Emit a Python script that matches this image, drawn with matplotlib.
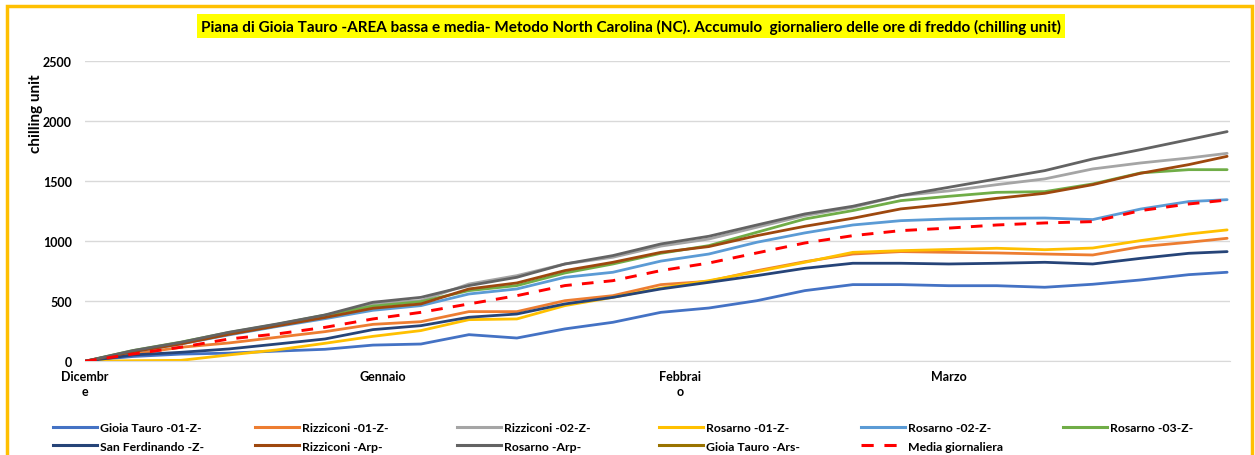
import matplotlib.pyplot as plot
from matplotlib.patches import Rectangle
from matplotlib.lines import Line2D

plot.rcParams['font.family'] = ['Lato', 'DejaVu Sans']
plot.rcParams['font.weight'] = 'bold'

# days since 1 December
days = [0, 5, 10, 15, 20, 25, 30, 35, 40, 45, 50, 55, 60, 65, 70, 75, 80, 85, 90, 95, 100, 105, 110, 115, 119]

gioia_01 = [5, 40, 60, 68, 85, 100, 135, 144, 222, 194, 270, 325, 408, 444, 505, 589, 639, 639, 630, 630, 617, 642, 678, 722, 742]
rizziconi_01 = [0, 60, 117, 153, 200, 247, 308, 330, 414, 414, 505, 547, 639, 667, 755, 830, 894, 914, 908, 903, 894, 886, 955, 992, 1025]
rizziconi_02 = [0, 85, 155, 235, 305, 380, 480, 506, 644, 714, 811, 867, 960, 1019, 1117, 1214, 1283, 1381, 1420, 1472, 1520, 1603, 1653, 1694, 1733]
rosarno_01 = [0, 5, 8, 53, 95, 150, 208, 256, 347, 353, 464, 533, 610, 672, 747, 825, 908, 922, 932, 942, 930, 944, 1006, 1061, 1095]
rosarno_02 = [0, 80, 145, 220, 290, 355, 425, 464, 561, 603, 700, 742, 835, 894, 992, 1070, 1136, 1172, 1186, 1192, 1194, 1181, 1269, 1331, 1347]
rosarno_03 = [0, 90, 160, 240, 308, 385, 460, 497, 589, 631, 736, 811, 900, 964, 1075, 1186, 1256, 1339, 1375, 1408, 1414, 1478, 1570, 1597, 1597]
san_ferdinando = [0, 53, 75, 103, 144, 186, 264, 297, 367, 394, 478, 533, 603, 658, 714, 775, 817, 817, 811, 817, 825, 811, 858, 900, 914]
rizziconi_arp = [0, 80, 145, 225, 295, 365, 442, 478, 603, 653, 756, 825, 908, 956, 1047, 1125, 1192, 1270, 1310, 1358, 1400, 1472, 1567, 1639, 1708]
rosarno_arp = [0, 89, 158, 242, 311, 386, 492, 533, 631, 700, 811, 881, 978, 1042, 1136, 1228, 1292, 1381, 1450, 1520, 1589, 1686, 1764, 1847, 1914]
gioia_ars = []  # no visible line in the chart
media = [0, 61, 117, 186, 228, 283, 353, 408, 478, 547, 631, 672, 756, 819, 903, 986, 1047, 1089, 1110, 1136, 1153, 1164, 1256, 1311, 1344]

month_days = [0, 31, 62, 90]
month_labels = ['Dicembr\ne', 'Gennaio', 'Febbrai\no', 'Marzo']
y_ticks = [0, 500, 1000, 1500, 2000, 2500]

series = [
    ('Gioia Tauro -01-Z-', gioia_01, '#4472C4'),
    ('Rizziconi -01-Z-', rizziconi_01, '#ED7D31'),
    ('Rizziconi -02-Z-', rizziconi_02, '#A5A5A5'),
    ('Rosarno -01-Z-', rosarno_01, '#FFC000'),
    ('Rosarno -02-Z-', rosarno_02, '#5B9BD5'),
    ('Rosarno -03-Z-', rosarno_03, '#70AD47'),
    ('San Ferdinando -Z-', san_ferdinando, '#264478'),
    ('Rizziconi -Arp-', rizziconi_arp, '#9E480E'),
    ('Rosarno -Arp-', rosarno_arp, '#636363'),
    ('Gioia Tauro -Ars-', gioia_ars, '#997300'),
]
media_dash = (4, 3.5)

W, H = 1255, 456
figure = plot.figure(figsize=(W / 100, H / 100), dpi=100)
axes = figure.add_axes([85 / W, 1 - 362.3 / H, (1230 - 85) / W, 300 / H])

handles = {}
for name, values, colour in series:
    axes.plot(days[:len(values)], values, color=colour, lw=2.0, solid_capstyle='round')
    handles[name] = Line2D([], [], color=colour, lw=2.2)
axes.plot(days, media, color='#FF0000', lw=2.1, dashes=media_dash, zorder=5)
handles['Media giornaliera'] = Line2D([], [], color='#FF0000', lw=2.2, dashes=media_dash)

axes.set_xlim(0, 119.3)
axes.set_ylim(0, 2500)
axes.set_yticks(y_ticks)
axes.set_yticklabels([str(v) for v in y_ticks], fontsize=9, fontweight='bold')
axes.set_xticks(month_days)
axes.set_xticklabels(month_labels, fontsize=9, fontweight='bold', linespacing=1.35)
axes.tick_params(length=0, pad=9.5)
axes.tick_params(axis='x', pad=6)
axes.grid(axis='y', color='#D9D9D9', lw=1)
axes.set_axisbelow(True)
for side in ['left', 'right', 'top']:
    axes.spines[side].set_visible(False)
axes.spines['bottom'].set_color('#D9D9D9')

figure.text(36 / W, 1 - 114 / H, 'chilling unit', rotation=90, ha='center', va='center',
            fontsize=11, fontweight='bold')

figure.text(631 / W, 1 - 27 / H,
            'Piana di Gioia Tauro -AREA bassa e media- Metodo North Carolina (NC). Accumulo  giornaliero delle ore di freddo (chilling unit)',
            ha='center', va='center', fontsize=11, fontweight='bold',
            bbox=dict(facecolor='#FFFF00', edgecolor='none', pad=3.2))

# legend laid out in fixed columns like Excel
order = [['Gioia Tauro -01-Z-', 'San Ferdinando -Z-'],
         ['Rizziconi -01-Z-', 'Rizziconi -Arp-'],
         ['Rizziconi -02-Z-', 'Rosarno -Arp-'],
         ['Rosarno -01-Z-', 'Gioia Tauro -Ars-'],
         ['Rosarno -02-Z-', 'Media giornaliera'],
         ['Rosarno -03-Z-']]
for i, col in enumerate(order):
    hs = [handles[name] for name in col]
    figure.legend(hs, col, loc='upper left', bbox_to_anchor=((53 + 202 * i) / W, 1 - 423 / H),
                  frameon=False, handlelength=3.6, handletextpad=0.28,
                  labelspacing=0.62, borderpad=0, borderaxespad=0, prop={'weight': 'bold', 'size': 8.8})

figure.patches.append(Rectangle((7 / W, -0.1), (1252 - 7) / W, 1.1 - 7 / H, transform=figure.transFigure,
                                fill=False, edgecolor='#FFC000', lw=2.5))

plot.savefig('out.png', dpi=100)
